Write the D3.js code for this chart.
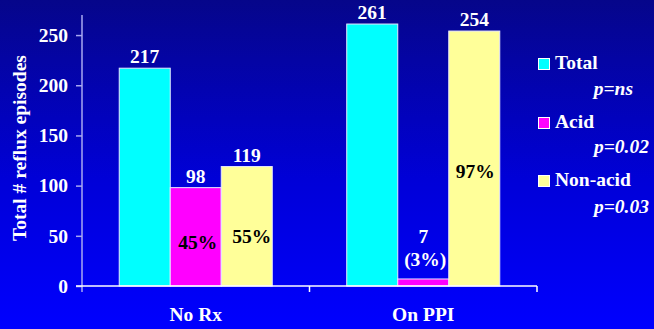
<!DOCTYPE html>
<html><head><meta charset="utf-8">
<script src="https://cdn.jsdelivr.net/npm/d3@7"></script>
<style>html,body{margin:0;padding:0;overflow:hidden;background:#0000ff}</style>
</head><body>
<svg id="c" width="654" height="329"></svg>
<script>
const categories = ["No Rx", "On PPI"];
const seriesNames = ["Total", "Acid", "Non-acid"];
const totalValues = [217, 261];
const acidValues = [98, 7];
const nonAcidValues = [119, 254];
const acidPctLabels = ["45%", "(3%)"];
const nonAcidPctLabels = ["55%", "97%"];
const pValues = ["p=ns", "p=0.02", "p=0.03"];
const yTicks = [0, 50, 100, 150, 200, 250];
const colors = ["#00ffff", "#ff00ff", "#ffff99"];

const svg = d3.select("#c");
const W = 654, H = 329;
const font = "'Liberation Serif','Times New Roman',serif";
const fs = 19.5;

const defs = svg.append("defs");
const grad = defs.append("linearGradient").attr("id", "bg").attr("x1", 0).attr("y1", 0).attr("x2", 0).attr("y2", 1);
grad.append("stop").attr("offset", "0%").attr("stop-color", "#06068a");
grad.append("stop").attr("offset", "55%").attr("stop-color", "#0000d8");
grad.append("stop").attr("offset", "100%").attr("stop-color", "#0000ff");
svg.append("rect").attr("width", W).attr("height", H).attr("fill", "url(#bg)");

const y = d3.scaleLinear().domain([0, 270]).range([286, 15]);
const x = d3.scaleBand().domain(categories).range([82, 537]).padding(0);
const xs = d3.scaleBand().domain(seriesNames).range([0, x.bandwidth()]).paddingInner(0).paddingOuter(0.73);

const series = [totalValues, acidValues, nonAcidValues];
const data = [];
categories.forEach((c, i) => seriesNames.forEach((s, j) => data.push({c, s, j, v: series[j][i], i})));

// bars
svg.append("g").selectAll("rect").data(data).join("rect")
  .attr("x", d => x(d.c) + xs(d.s))
  .attr("y", d => y(d.v))
  .attr("width", xs.bandwidth())
  .attr("height", d => y(0) - y(d.v))
  .attr("fill", d => colors[d.j])
  .attr("stroke", "#e8e8ff").attr("stroke-width", 1);

// y axis
const yAxis = d3.axisLeft(y).tickValues(yTicks).tickSize(6).tickPadding(8);
const gy = svg.append("g").attr("transform", "translate(82,0)").call(yAxis);
gy.select(".domain").attr("stroke", "#a8a8f0").attr("stroke-width", 1.5).attr("d", `M0,${y(270)}V292`);
gy.selectAll(".tick line").attr("stroke", "#a8a8f0").attr("stroke-width", 1.5);
gy.selectAll(".tick text").attr("fill", "#fff").attr("font-family", font).attr("font-weight", "bold").attr("font-size", fs);

// x axis
const xAxis = d3.axisBottom(x).tickSize(0).tickPadding(0);
const gx = svg.append("g").attr("transform", `translate(0,${y(0)})`).call(xAxis);
gx.select(".domain").attr("stroke", "#fff").attr("stroke-width", 1.5).attr("d", "M76,0H537");
gx.selectAll(".tick text").attr("fill", "#fff").attr("font-family", font).attr("font-weight", "bold")
  .attr("font-size", fs).attr("dy", null).attr("y", 35);
svg.append("g").selectAll("line").data([categories[1], "end"]).join("line")
  .attr("x1", d => d === "end" ? x.range()[1] : x(d)).attr("x2", d => d === "end" ? x.range()[1] : x(d))
  .attr("y1", y(0)).attr("y2", y(0) + 6).attr("stroke", "#fff").attr("stroke-width", 1.5);

// y title
svg.append("text").attr("transform", "translate(26,148) rotate(-90)")
  .attr("text-anchor", "middle").attr("fill", "#fff").attr("font-family", font)
  .attr("font-weight", "bold").attr("font-size", fs).text("Total # reflux episodes");

// value labels above bars (except On PPI acid)
const topLabels = data.filter(d => !(d.j === 1 && d.i === 1));
svg.append("g").selectAll("text").data(topLabels).join("text")
  .attr("x", d => x(d.c) + xs(d.s) + xs.bandwidth() / 2)
  .attr("y", d => y(d.v) - 5)
  .attr("text-anchor", "middle").attr("fill", "#fff").attr("font-family", font)
  .attr("font-weight", "bold").attr("font-size", fs).text(d => d.v);

const cx = (c, s) => x(c) + xs(s) + xs.bandwidth() / 2;
const lab = (t, xx, yy, fill) => svg.append("text").attr("x", xx).attr("y", yy).attr("text-anchor", "middle")
  .attr("fill", fill).attr("font-family", font).attr("font-weight", "bold").attr("font-size", fs).text(t);

// inside pct labels
lab(acidPctLabels[0], cx(categories[0], "Acid") + 2, 249, "#000");
lab(nonAcidPctLabels[0], cx(categories[0], "Non-acid") + 5, 243, "#000");
lab(nonAcidPctLabels[1], cx(categories[1], "Non-acid") + 1, 178, "#000");
lab(acidValues[1], cx(categories[1], "Acid"), 243, "#fff");
lab(acidPctLabels[1], cx(categories[1], "Acid") + 2, 266, "#fff");

// legend
const lg = svg.append("g");
const legendY = [58, 117, 175];
seriesNames.forEach((s, j) => {
  lg.append("rect").attr("x", 538.5).attr("y", legendY[j] + 0.5).attr("width", 11).attr("height", 11)
    .attr("fill", colors[j]).attr("stroke", "#fff").attr("stroke-width", 1);
  lg.append("text").attr("x", 555).attr("y", legendY[j] + 11).attr("fill", "#fff").attr("font-family", font)
    .attr("font-weight", "bold").attr("font-size", fs).text(s);
});
const pRight = [633, 649, 649];
const pY = [95, 153, 213];
pValues.forEach((p, j) => {
  lg.append("text").attr("x", pRight[j]).attr("y", pY[j]).attr("text-anchor", "end").attr("fill", "#fff")
    .attr("font-family", font).attr("font-weight", "bold").attr("font-style", "italic").attr("font-size", fs).text(p);
});
</script>
</body></html>
